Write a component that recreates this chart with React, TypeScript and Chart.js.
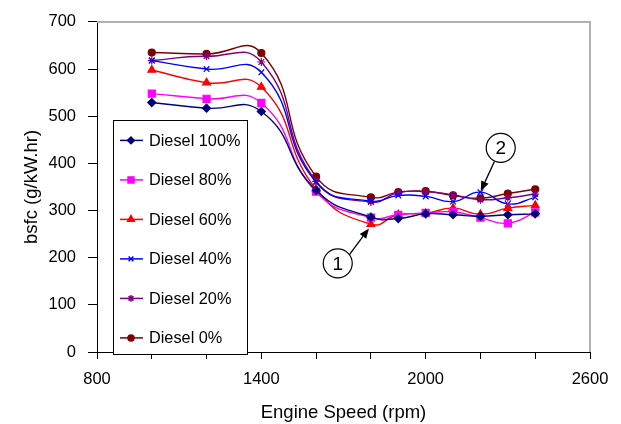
import { useEffect, useRef } from "react";
import { Chart, registerables } from "chart.js";
import { drawPoint } from "chart.js/helpers";

Chart.register(...registerables);

// Engine speed (rpm) of each measured point
const rpm = [1000, 1200, 1400, 1600, 1800, 1900, 2000, 2100, 2200, 2300, 2400];

// bsfc (g/kW.hr) per series
const diesel100 = [529, 517, 510, 343, 286, 283, 293, 291, 288, 291, 293];
const diesel80 = [548, 537, 528, 340, 285, 291, 295, 297, 285, 273, 296];
const diesel60 = [598, 571, 562, 345, 271, 291, 294, 305, 292, 305, 311];
const diesel40 = [618, 600, 593, 360, 320, 332, 330, 319, 339, 314, 328];
const diesel20 = [618, 627, 615, 362, 318, 338, 340, 333, 323, 327, 335];
const diesel0 = [635, 632, 634, 372, 328, 339, 341, 332, 326, 336, 345];

const seriesNames = ["Diesel 100%", "Diesel 80%", "Diesel 60%", "Diesel 40%", "Diesel 20%", "Diesel 0%"];
const seriesValues = [diesel100, diesel80, diesel60, diesel40, diesel20, diesel0];
const seriesColors = ["#000080", "#FF00FF", "#FF0000", "#0000FF", "#800080", "#800000"];
const seriesMarkers = ["rectRot", "rect", "triangle", "crossRot", "star", "circle"];
const seriesMarkerSizes = [4, 5, 4.5, 4, 4, 3.5];

// Axis ticks
const xMin = 800;
const xMax = 2600;
const xStep = 200;
const xLabelValues = [800, 1400, 2000, 2600];
const yMin = 0;
const yMax = 700;
const yStep = 100;

// Callouts (in data units: rpm, bsfc)
const calloutLabels = ["1", "2"];
const calloutCircleRpm = [1679, 2274];
const calloutCircleBsfc = [188, 433];
const calloutFromRpm = [1721, 2251];
const calloutFromBsfc = [206, 404];
const calloutToRpm = [1793, 2201];
const calloutToBsfc = [262, 341];

const FONT = "'Liberation Sans', Arial, sans-serif";

const overlayPlugin = {
  id: "overlay",
  afterDraw(chart: any) {
    const { ctx, chartArea, scales } = chart;
    const xs = scales.x;
    const ys = scales.y;
    ctx.save();

    // gray top/right frame
    ctx.strokeStyle = "#b0b0b0";
    ctx.lineWidth = 2;
    ctx.beginPath();
    ctx.moveTo(chartArea.left, chartArea.top);
    ctx.lineTo(chartArea.right, chartArea.top);
    ctx.lineTo(chartArea.right, chartArea.bottom);
    ctx.stroke();

    // callouts
    for (let i = 0; i < calloutLabels.length; i++) {
      const cx = xs.getPixelForValue(calloutCircleRpm[i]);
      const cy = ys.getPixelForValue(calloutCircleBsfc[i]);
      const fx = xs.getPixelForValue(calloutFromRpm[i]);
      const fy = ys.getPixelForValue(calloutFromBsfc[i]);
      const tx = xs.getPixelForValue(calloutToRpm[i]);
      const ty = ys.getPixelForValue(calloutToBsfc[i]);
      const ang = Math.atan2(ty - fy, tx - fx);
      const headLen = 10;
      const headW = 4;
      const bx = tx - headLen * Math.cos(ang);
      const by = ty - headLen * Math.sin(ang);
      ctx.strokeStyle = "#000";
      ctx.lineWidth = 1.3;
      ctx.beginPath();
      ctx.moveTo(fx, fy);
      ctx.lineTo(bx, by);
      ctx.stroke();
      ctx.fillStyle = "#000";
      ctx.beginPath();
      ctx.moveTo(tx, ty);
      ctx.lineTo(bx + headW * Math.sin(ang), by - headW * Math.cos(ang));
      ctx.lineTo(bx - headW * Math.sin(ang), by + headW * Math.cos(ang));
      ctx.closePath();
      ctx.fill();

      ctx.fillStyle = "#fff";
      ctx.beginPath();
      ctx.arc(cx, cy, 14.5, 0, Math.PI * 2);
      ctx.fill();
      ctx.lineWidth = 1.2;
      ctx.stroke();
      ctx.fillStyle = "#000";
      ctx.font = `19px ${FONT}`;
      ctx.textAlign = "center";
      ctx.textBaseline = "middle";
      ctx.fillText(calloutLabels[i], cx, cy + 1);
    }

    // legend box
    const lx = chartArea.left + 16;
    const ly = chartArea.top + 98;
    const lw = 134;
    const lh = 234;
    ctx.fillStyle = "#fff";
    ctx.fillRect(lx, ly, lw, lh);
    ctx.strokeStyle = "#000";
    ctx.lineWidth = 1;
    ctx.strokeRect(Math.round(lx) + 0.5, Math.round(ly) + 0.5, lw, lh);
    ctx.font = `16.3px ${FONT}`;
    ctx.textAlign = "left";
    ctx.textBaseline = "middle";
    for (let i = 0; i < seriesNames.length; i++) {
      const yy = ly + 20.5 + i * 39.5;
      ctx.strokeStyle = seriesColors[i];
      ctx.lineWidth = 1.5;
      ctx.beginPath();
      ctx.moveTo(lx + 7, yy);
      ctx.lineTo(lx + 30, yy);
      ctx.stroke();
      ctx.fillStyle = seriesColors[i];
      drawPoint(
        ctx,
        { pointStyle: seriesMarkers[i], radius: seriesMarkerSizes[i] * 0.85, borderWidth: 1.2, rotation: 0 } as any,
        lx + 18,
        yy
      );
      ctx.fillStyle = "#000";
      ctx.fillText(seriesNames[i], lx + 36, yy + 1);
    }
    ctx.restore();
  },
};

export default function App() {
  const ref = useRef<HTMLCanvasElement | null>(null);

  useEffect(() => {
    if (!ref.current) return;
    const datasets = seriesNames.map((name, i) => ({
      label: name,
      data: rpm.map((x, j) => ({ x, y: seriesValues[i][j] })),
      borderColor: seriesColors[i],
      backgroundColor: seriesColors[i],
      pointBackgroundColor: seriesColors[i],
      pointBorderColor: seriesColors[i],
      pointStyle: seriesMarkers[i],
      pointRadius: seriesMarkerSizes[i],
      pointBorderWidth: 1.2,
      borderWidth: 1.4,
      tension: 0.5,
      fill: false,
    }));

    const chart = new Chart(ref.current, {
      type: "line",
      data: { datasets },
      plugins: [overlayPlugin],
      options: {
        animation: false,
        responsive: false,
        devicePixelRatio: 1,
        layout: { padding: { top: 15, right: 31, left: 0, bottom: 0 } },
        plugins: {
          legend: { display: false },
          tooltip: { enabled: false },
        },
        scales: {
          x: {
            type: "linear",
            min: xMin,
            max: xMax,
            afterFit: (s: any) => {
              s.height = 72;
            },
            ticks: {
              stepSize: xStep,
              autoSkip: false,
              maxRotation: 0,
              color: "#000",
              padding: 11,
              font: { family: FONT, size: 16.5 },
              callback: (v: any) => (xLabelValues.includes(Number(v)) ? String(v) : ""),
            },
            grid: { drawOnChartArea: false, tickLength: 7, color: "#000", tickColor: "#000" },
            border: { color: "#000", width: 1 },
            title: {
              display: true,
              text: "Engine Speed (rpm)",
              color: "#000",
              font: { family: FONT, size: 18.5 },
              padding: { top: 0, bottom: 0 },
            },
          },
          y: {
            type: "linear",
            min: yMin,
            max: yMax,
            afterFit: (s: any) => {
              s.width = 97;
            },
            ticks: {
              stepSize: yStep,
              color: "#000",
              padding: 12,
              font: { family: FONT, size: 16.5 },
            },
            grid: { drawOnChartArea: false, tickLength: 9, color: "#000", tickColor: "#000" },
            border: { color: "#000", width: 1 },
            title: {
              display: true,
              text: "bsfc (g/kW.hr)",
              color: "#000",
              font: { family: FONT, size: 18.5 },
              padding: { top: 21, bottom: 0 },
            },
          },
        },
      } as any,
    });
    return () => chart.destroy();
  }, []);

  return (
    <div style={{ position: "absolute", left: 0, top: 0, width: 621, height: 424, background: "#fff" }}>
      <canvas ref={ref} width={621} height={424} style={{ display: "block", width: 621, height: 424 }} />
    </div>
  );
}
